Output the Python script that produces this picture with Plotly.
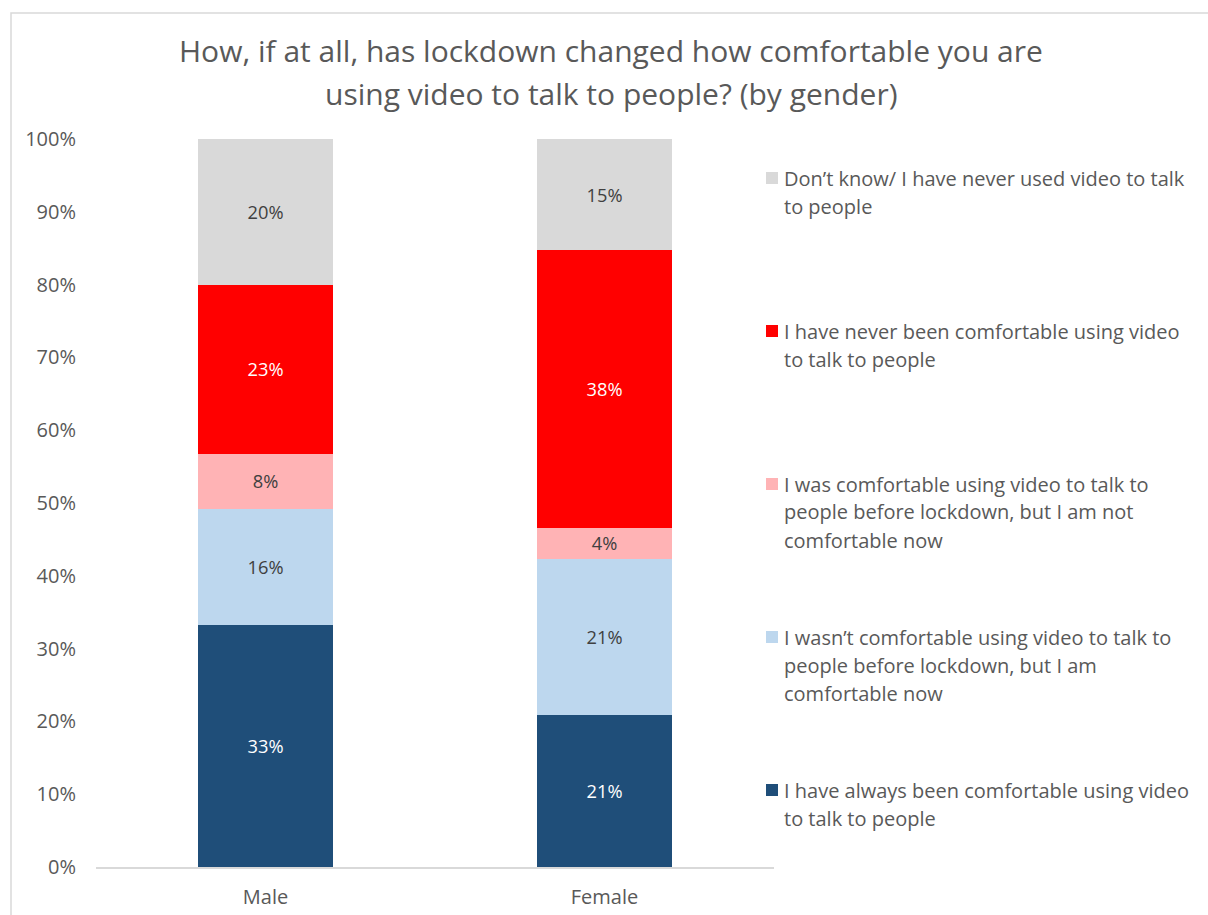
import plotly.graph_objects as go

# Survey results: share of respondents by gender (percent)
genders = ["Male", "Female"]
series_names = [
    "I have always been comfortable using video\nto talk to people",
    "I wasn\u2019t comfortable using video to talk to\npeople before lockdown, but I am\ncomfortable now",
    "I was comfortable using video to talk to\npeople before lockdown, but I am not\ncomfortable now",
    "I have never been comfortable using video\nto talk to people",
    "Don\u2019t know/ I have never used video to talk\nto people",
]
always_comfortable = [33.3, 20.9]
now_comfortable = [15.9, 21.4]
no_longer_comfortable = [7.6, 4.3]
never_comfortable = [23.1, 38.1]
dont_know = [20.1, 15.3]
tick_values = [0, 10, 20, 30, 40, 50, 60, 70, 80, 90, 100]
tick_labels = [f"{v}%" for v in tick_values]

series_values = [always_comfortable, now_comfortable, no_longer_comfortable,
                 never_comfortable, dont_know]
colors = ["#1F4E79", "#BDD7EE", "#FFB3B5", "#FF0000", "#D9D9D9"]
label_colors = ["#FFFFFF", "#404040", "#404040", "#FFFFFF", "#404040"]

FONT = "Open Sans, Noto Sans, sans-serif"
W, H = 1208, 915
ML, MR, MT, MB = 96, 434, 139, 48
PW, PH = W - ML - MR, H - MT - MB


def px_x(px):
    return (px - ML) / PW


def px_y(py):
    return (H - MB - py) / PH


fig = go.Figure()
for name, vals, col, tcol in zip(series_names, series_values, colors, label_colors):
    fig.add_trace(go.Bar(
        x=genders, y=vals, name=name.replace("\n", " "),
        marker=dict(color=col, line=dict(width=0)),
        texttemplate="%{y:.0f}%", textposition="inside",
        insidetextanchor="middle",
        textfont=dict(family=FONT, size=19.5, color=tcol),
        showlegend=False,
    ))

# Legend drawn as squares with wrapped text, top entry = top segment
legend_first_line_y = [790, 637, 484, 331, 178]
annotations = []
shapes = []
for name, col, y0 in zip(series_names, colors, legend_first_line_y):
    shapes.append(dict(type="rect", xref="paper", yref="paper",
                       x0=px_x(766), x1=px_x(778), y0=px_y(y0 + 6), y1=px_y(y0 - 6),
                       fillcolor=col, line=dict(width=0)))
    for i, line in enumerate(name.split("\n")):
        annotations.append(dict(
            text=line, xref="paper", yref="paper", x=px_x(782), y=px_y(y0 + 28 * i),
            xanchor="left", yanchor="middle", showarrow=False,
            font=dict(family=FONT, size=20, color="#595959"),
        ))

# Chart title
title_lines = ["How, if at all, has lockdown changed how comfortable you are",
               "using video to talk to people? (by gender)"]
for i, line in enumerate(title_lines):
    annotations.append(dict(
        text=line, xref="paper", yref="paper", x=px_x(611), y=px_y(50 + 43 * i),
        xanchor="center", yanchor="middle", showarrow=False,
        font=dict(family=FONT, size=30, color="#595959"),
    ))

# Outer chart frame
shapes.append(dict(type="rect", xref="paper", yref="paper",
                   x0=px_x(11), x1=px_x(1240), y0=px_y(950), y1=px_y(13),
                   fillcolor="rgba(0,0,0,0)", line=dict(color="#D9D9D9", width=1.5),
                   layer="below"))

fig.update_layout(
    width=W, height=H,
    margin=dict(l=ML, r=MR, t=MT, b=MB, autoexpand=False),
    barmode="stack", bargap=0.6,
    plot_bgcolor="white", paper_bgcolor="white",
    font=dict(family=FONT, color="#595959"),
    xaxis=dict(showgrid=False, showline=True, linecolor="#D9D9D9", linewidth=1.5,
               ticks="", ticklabelstandoff=11, automargin=False,
               tickfont=dict(size=20, color="#595959"), zeroline=False),
    yaxis=dict(range=[0, 100], tickvals=tick_values, ticktext=tick_labels,
               showgrid=False, showline=False, zeroline=False, ticks="",
               ticklabelstandoff=19, automargin=False,
               tickfont=dict(size=20, color="#595959")),
    annotations=annotations, shapes=shapes,
    uniformtext=dict(minsize=10, mode="show"),
)

fig.write_html("out.html")
